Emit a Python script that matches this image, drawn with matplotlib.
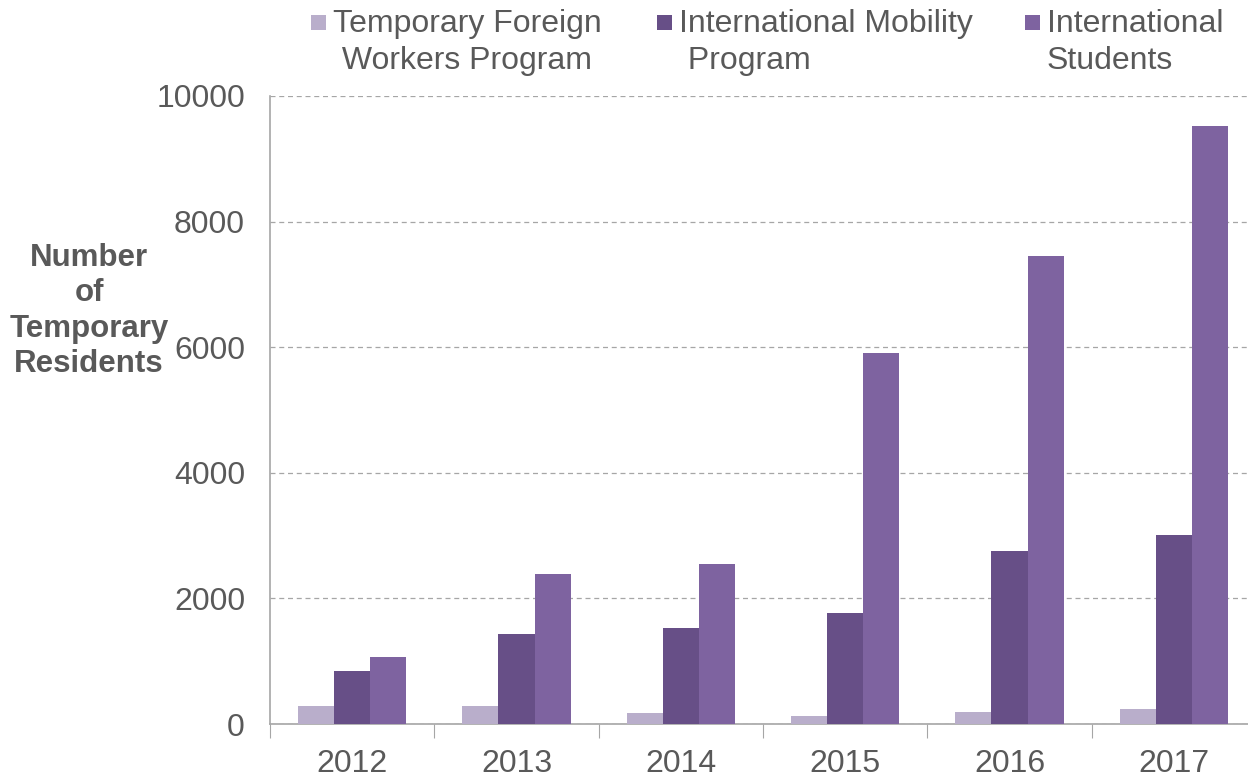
import matplotlib.pyplot as plt
from matplotlib.patches import Rectangle
import numpy as np

years = ['2012', '2013', '2014', '2015', '2016', '2017']
tfw = [287, 287, 170, 127, 191, 234]
imp = [840, 1433, 1530, 1763, 2760, 3010]
stu = [1062, 2389, 2548, 5908, 7452, 9522]
labels = [('Temporary Foreign', ' Workers Program'),
          ('International Mobility', ' Program'),
          ('International', 'Students')]
colors = ['#b9aecb', '#674f87', '#7e63a0']

plt.rcParams['font.family'] = ['Liberation Sans', 'DejaVu Sans']
grey = '#595959'
W, H = 1248, 777

fig = plt.figure(figsize=(12.48, 7.77), dpi=100)
ax = fig.add_axes([270/W, 1-724/H, 986/W, 628/H])

x = np.arange(len(years))
w = 0.22
for i, (vals, c) in enumerate(zip([tfw, imp, stu], colors)):
    ax.bar(x + (i-1)*w, vals, w, color=c, zorder=3)

ax.set_ylim(0, 10000)
ax.set_xlim(-0.5, 5.5)
ax.set_yticks(range(0, 10001, 2000))
ax.yaxis.grid(True, linestyle=(0, (4, 3)), color='#a6a6a6', linewidth=0.9, zorder=0)
ax.tick_params(axis='y', length=0, pad=18, labelsize=23, labelcolor=grey)

ax.set_xticks(np.arange(-0.5, 6, 1))
ax.set_xticklabels([])
ax.tick_params(axis='x', which='major', length=10, color='#a6a6a6', direction='out')
ax.set_xticks(x, minor=True)
ax.set_xticklabels(years, minor=True)
ax.tick_params(axis='x', which='minor', length=0, pad=18, labelsize=23, labelcolor=grey)

for s in ['top', 'right']:
    ax.spines[s].set_visible(False)
for s in ['left', 'bottom']:
    ax.spines[s].set_color('#a6a6a6')
    ax.spines[s].set_linewidth(1.2)

# legend drawn by hand: marker beside first line, second line left aligned
leg_x = [311, 657, 1025]
for (l1, l2), c, mx in zip(labels, colors, leg_x):
    fig.add_artist(Rectangle((mx/W, 1-30/H), 15/W, 15/H, transform=fig.transFigure,
                             color=c, lw=0))
    fig.text((mx+22)/W, 1-32/H, l1, ha='left', va='baseline', fontsize=23, color=grey)
    fig.text((mx+22)/W, 1-69/H, l2, ha='left', va='baseline', fontsize=23, color=grey)

fig.text(89/W, 1-311/H, 'Number\nof\nTemporary\nResidents', ha='center', va='center',
         fontsize=22.5, fontweight='bold', color=grey, linespacing=1.24)

fig.savefig('out.png')
